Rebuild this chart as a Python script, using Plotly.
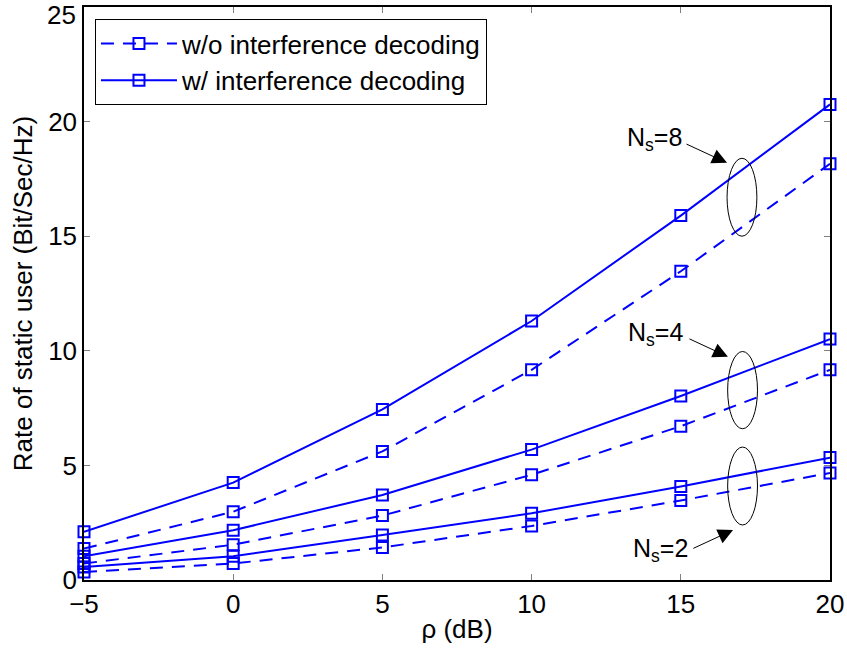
import plotly.graph_objects as go

rho_db = [-5, 0, 5, 10, 15, 20]

# w/ interference decoding (solid)
with_ns8 = [2.1, 4.25, 7.44, 11.3, 15.9, 20.75]
with_ns4 = [1.04, 2.17, 3.71, 5.69, 8.03, 10.51]
with_ns2 = [0.57, 1.04, 1.96, 2.91, 4.08, 5.34]

# w/o interference decoding (dashed)
without_ns8 = [1.37, 2.98, 5.61, 9.17, 13.47, 18.16]
without_ns4 = [0.72, 1.54, 2.81, 4.59, 6.71, 9.17]
without_ns2 = [0.35, 0.72, 1.42, 2.36, 3.47, 4.67]

y_tickvals = [0, 5, 10, 15, 20, 25]
y_ticktext = ["0", "5", "10", "15", "20", ""]  # top label drawn separately so it isn't cut off
top_tick_label = "25"

legend_names = ["w/o interference decoding", "w/ interference decoding"]
ns_labels = ["8", "4", "2"]

BLUE = "rgb(0,0,255)"
FONT = "Liberation Sans, Arial, sans-serif"

fig = go.Figure()

dashed_sets = [without_ns8, without_ns4, without_ns2]
solid_sets = [with_ns8, with_ns4, with_ns2]

for i, ys in enumerate(dashed_sets):
    fig.add_trace(go.Scatter(
        x=rho_db, y=ys, mode="lines+markers",
        line=dict(color=BLUE, width=2, dash="13px,9px"),
        marker=dict(symbol="square-open", size=11, color=BLUE, line=dict(width=2, color=BLUE)),
        name=legend_names[0], legendgroup="wo", showlegend=(i == 0), cliponaxis=False,
    ))
for i, ys in enumerate(solid_sets):
    fig.add_trace(go.Scatter(
        x=rho_db, y=ys, mode="lines+markers",
        line=dict(color=BLUE, width=2),
        marker=dict(symbol="square-open", size=11, color=BLUE, line=dict(width=2, color=BLUE)),
        name=legend_names[1], legendgroup="w", showlegend=(i == 0), cliponaxis=False,
    ))

# ellipses
ellipses = [(16.55, 17.55, 15.0, 18.4), (16.57, 17.57, 6.6, 9.97), (16.57, 17.57, 2.4, 5.8)]
for x0, x1, y0, y1 in ellipses:
    fig.add_shape(type="circle", xref="x", yref="y", x0=x0, x1=x1, y0=y0, y1=y1,
                  line=dict(color="black", width=1))

# labels and arrows: (text right x, text y, tail x, tail y, tip x, tip y)
label_pos = [
    (15.1, 19.25, 15.14, 19.05, 16.55, 18.2),
    (15.15, 10.75, 15.24, 10.55, 16.58, 9.74),
    (15.3, 1.3, 15.37, 1.35, 16.75, 2.18),
]
for lab, (tx, ty, ax, ay, hx, hy) in zip(ns_labels, label_pos):
    fig.add_annotation(x=tx, y=ty, xref="x", yref="y", text="N<sub>s</sub>=" + lab,
                       showarrow=False, xanchor="right", yanchor="middle",
                       font=dict(family=FONT, size=25, color="black"))
    fig.add_annotation(x=hx, y=hy, ax=ax, ay=ay, xref="x", yref="y", axref="x", ayref="y",
                       text="", showarrow=True, arrowhead=2, arrowsize=3, arrowwidth=1,
                       arrowcolor="black")

# top y tick label
fig.add_annotation(x=0, y=1, xref="paper", yref="paper", text=top_tick_label, showarrow=False,
                   xanchor="right", yanchor="top", xshift=-6, yshift=9,
                   font=dict(family=FONT, size=26, color="black"))

fig.update_layout(
    width=847, height=654,
    margin=dict(l=84, r=17, t=7, b=74, autoexpand=False),
    paper_bgcolor="white", plot_bgcolor="white",
    font=dict(family=FONT, size=26, color="black"),
    legend=dict(x=0.0147, y=0.979, xanchor="left", yanchor="top",
                bordercolor="black", borderwidth=1, bgcolor="white",
                font=dict(family=FONT, size=26), itemwidth=76, tracegroupgap=0),
    showlegend=True,
)
fig.update_xaxes(range=[-5, 20], tickvals=rho_db, automargin=False,
                 showgrid=False, zeroline=False, showline=True, linecolor="black", linewidth=1.5,
                 mirror="ticks", ticks="inside", ticklen=6, tickcolor="gray",
                 ticklabeloverflow="allow", tickfont=dict(size=26),
                 title=dict(text="ρ (dB)", font=dict(size=26), standoff=2))
fig.update_yaxes(range=[0, 25], tickvals=y_tickvals, ticktext=y_ticktext, automargin=False,
                 showgrid=False, zeroline=False, showline=True, linecolor="black", linewidth=1.5,
                 mirror="ticks", ticks="inside", ticklen=6, tickcolor="gray",
                 ticklabeloverflow="allow", tickfont=dict(size=26),
                 title=dict(text="Rate of static user (Bit/Sec/Hz)", font=dict(size=26), standoff=8))

fig.write_html("out.html")
